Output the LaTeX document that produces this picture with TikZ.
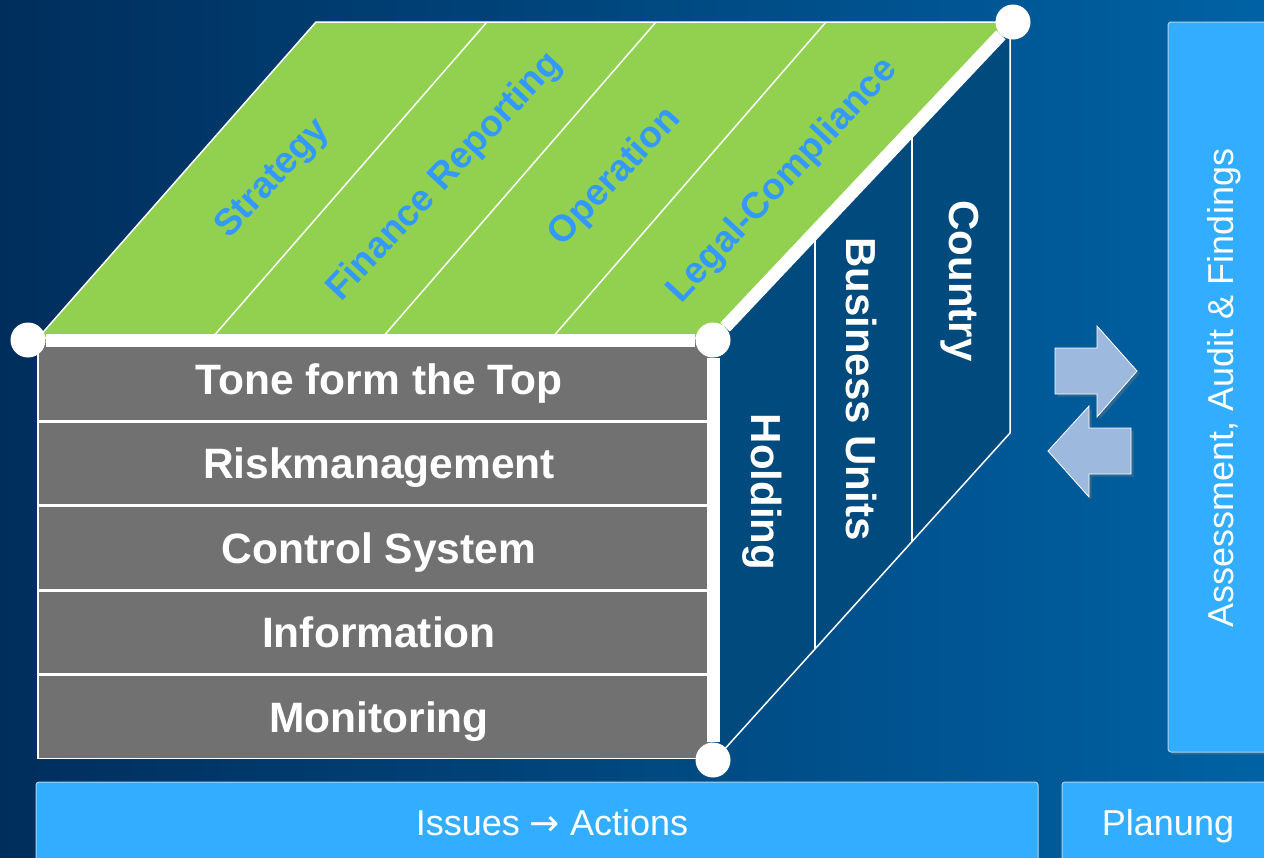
\documentclass[tikz,border=0pt]{standalone}
\usepackage{fontspec}
\setmainfont{Liberation Sans}
\newfontfamily\arrowfont{DejaVu Sans}
\usetikzlibrary{positioning,shadows}
\definecolor{bgleft}{RGB}{0,46,92}
\definecolor{bgright}{RGB}{0,98,164}
\definecolor{cubegray}{RGB}{113,113,113}
\definecolor{topgreen}{RGB}{146,208,80}
\definecolor{toptext}{RGB}{51,153,255}
\definecolor{sideblue}{RGB}{0,74,126}
\definecolor{panelblue}{RGB}{51,173,255}
\definecolor{panelline}{RGB}{170,212,242}
\definecolor{arrowblue}{RGB}{157,185,222}

\begin{document}
\begin{tikzpicture}[x=1pt,y=-1pt,
  rowbox/.style={draw=white,line width=1.5pt,fill=cubegray,text=white,minimum width=682pt,
    minimum height=83pt,inner sep=0pt,text height=30pt,text depth=0pt,
    font=\fontsize{42.5}{50}\selectfont\bfseries},
  toplabel/.style={text=toptext,rotate=47,font=\fontsize{37}{44}\selectfont\bfseries},
  sidelabel/.style={text=white,rotate=-90,font=\fontsize{42}{50}\selectfont\bfseries},
  thinline/.style={draw=white,line width=1.5pt},
  edge/.style={draw=white,line width=13pt},
  dot/.style={circle,fill=white,minimum size=35pt,inner sep=0pt},
  panel/.style={fill=panelblue,draw=panelline,line width=1pt,rounded corners=3pt},
  paneltext/.style={text=white,font=\fontsize{36}{43}\selectfont},
  blockarrow/.style={fill=arrowblue,draw=white,line width=0.8pt,drop shadow={opacity=0.35}}]
  \clip (0,0) rectangle (1264,857);
  \shade[left color=bgleft,right color=bgright] (0,0) rectangle (1264,857);

  % front face
  \node[rowbox] (tone) at (379,379) {Tone form the Top};
  \node[rowbox,below=0pt of tone] (risk) {Riskmanagement};
  \node[rowbox,below=0pt of risk] (control) {Control System};
  \node[rowbox,below=0pt of control] (info) {Information};
  \node[rowbox,below=0pt of info] (monitor) {Monitoring};

  % top face
  \coordinate (tfl) at (38,338);
  \coordinate (tbl) at (316,22);
  \coordinate (tbr) at (1013,22);
  \coordinate (tfr) at (713,338);
  \filldraw[fill=topgreen,thinline] (tfl) -- (tbl) -- (tbr) -- (tfr) -- cycle;
  \coordinate (d1f) at (212,338); \coordinate (d1b) at (487,22);
  \coordinate (d2f) at (382,338); \coordinate (d2b) at (656,22);
  \coordinate (d3f) at (552,338); \coordinate (d3b) at (826,22);
  \draw[thinline] (d1f) -- (d1b) (d2f) -- (d2b) (d3f) -- (d3b);

  % side face
  \coordinate (sbt) at (1010,25);
  \coordinate (sbb) at (1010,433);
  \coordinate (sfb) at (722,752);
  \coordinate (sfc) at (713,752);
  \fill[sideblue] (tfr) -- (sbt) -- (sbb) -- (sfb) -- (sfc) -- cycle;
  \coordinate (but) at (815,232); \coordinate (bub) at (815,649);
  \coordinate (cot) at (912,129); \coordinate (cob) at (912,541);
  \draw[thinline] (sbt) -- (sbb) -- (sfb);
  \draw[thinline] (but) -- (bub) (cot) -- (cob);

  % cube edges
  \node[dot] (ftl) at (28,340) {};
  \node[dot] (ftr) at (713,340) {};
  \node[dot] (fbr) at (713,760) {};
  \node[dot] (btr) at (1013,22) {};
  \draw[edge] (ftl) -- (ftr);
  \draw[edge] (ftr) -- (fbr);
  \draw[edge] (ftr) -- (btr);

  % labels on top and side
  \node[toplabel] (strategy) at (273,179) {Strategy};
  \node[toplabel] (finance) at (445,177) {Finance Reporting};
  \node[toplabel] (operation) at (615,177) {Operation};
  \node[toplabel] (legal) at (783,181) {Legal-Compliance};
  \node[sidelabel] (holding) at (762,492) {Holding};
  \node[sidelabel] (business) at (862,389) {Business Units};
  \node[sidelabel] (country) at (960,281) {Country};

  % arrows
  \path[blockarrow] (1055,348) -- (1097,348) -- (1097,326) -- (1137,371) -- (1097,417)
    -- (1097,394) -- (1055,394) -- cycle;
  \path[blockarrow] (1131,428) -- (1089,428) -- (1089,406) -- (1048,451) -- (1089,497)
    -- (1089,474) -- (1131,474) -- cycle;

  % panels
  \path[panel,drop shadow={opacity=0.3}] (1168,22) rectangle (1290,752);
  \node[paneltext,rotate=90] (assess) at (1224,388) {Assessment, Audit \& Findings};
  \path[panel] (36,782) rectangle (1038,880);
  \node[paneltext,text height=26pt,text depth=0pt] (issues) at (552,822) {Issues {\arrowfont →} Actions};
  \path[panel] (1062,782) rectangle (1290,880);
  \node[paneltext,text height=26pt,text depth=0pt] (planung) at (1168,822) {Planung};
\end{tikzpicture}
\end{document}
